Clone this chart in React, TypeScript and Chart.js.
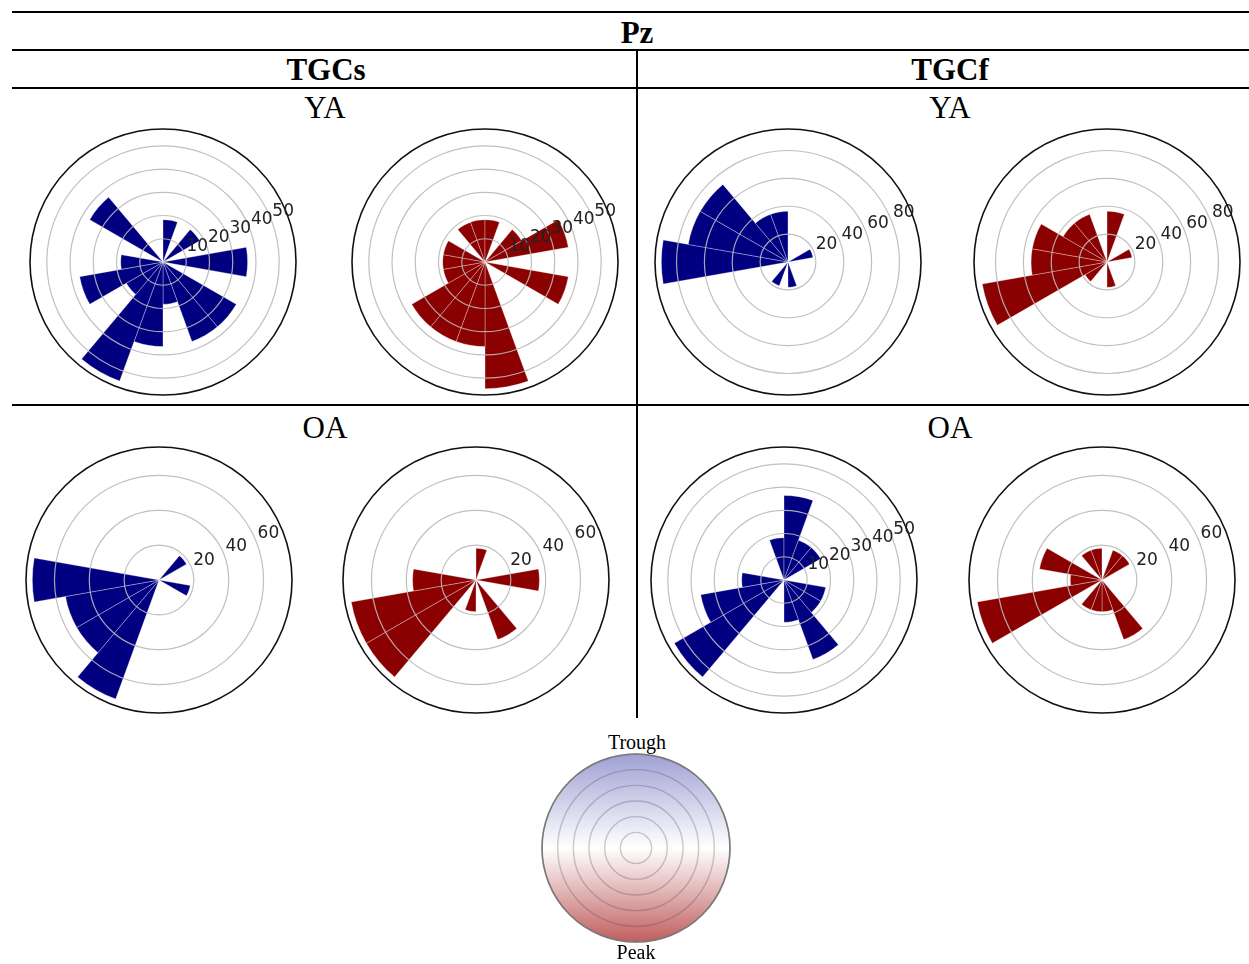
import React, { useEffect, useRef } from "react";
import { Chart, registerables } from "chart.js";

Chart.register(...registerables);

// Phase bins (degrees, counter-clockwise from east), 20° wide
const BIN_CENTERS_DEG = [0, 20, 40, 60, 80, 100, 120, 140, 160, 180, 200, 220, 240, 260, 280, 300, 320, 340];

// Pz, TGCs
const TGCS_YA_TROUGH = [36.4, 0, 18.2, 0, 18.2, 0, 0, 36.4, 0, 18.2, 36.4, 18.2, 54.5, 36.4, 18.2, 36.4, 36.4, 0];
const TGCS_YA_PEAK = [0, 36.4, 18.2, 0, 18.2, 18.2, 18.2, 0, 18.2, 18.2, 18.2, 36.4, 36.4, 36.4, 54.5, 0, 0, 36.4];
const TGCS_OA_TROUGH = [0, 0, 18.2, 0, 0, 0, 0, 0, 0, 72.7, 54.5, 54.5, 72.7, 0, 0, 0, 0, 18.2];
const TGCS_OA_PEAK = [36.4, 0, 0, 0, 18.2, 0, 0, 0, 0, 36.4, 72.7, 72.7, 0, 18.2, 0, 36.4, 0, 0];
// Pz, TGCf
const TGCF_YA_TROUGH = [0, 18.2, 0, 0, 0, 36.4, 36.4, 72.7, 72.7, 90.9, 0, 0, 18.2, 0, 18.2, 0, 0, 0];
const TGCF_YA_PEAK = [0, 18.2, 0, 0, 36.4, 0, 36.4, 36.4, 54.5, 54.5, 90.9, 18.2, 0, 0, 18.2, 0, 0, 0];
const TGCF_OA_TROUGH = [0, 0, 18.2, 18.2, 36.4, 18.2, 0, 0, 0, 18.2, 36.4, 54.5, 0, 0, 18.2, 36.4, 18.2, 18.2];
const TGCF_OA_PEAK = [0, 0, 18.2, 18.2, 0, 18.2, 18.2, 0, 36.4, 18.2, 72.7, 0, 18.2, 18.2, 18.2, 36.4, 0, 0];

const TROUGH_COLOR = "#000080";
const PEAK_COLOR = "#8b0000";

const SERIF = '"Liberation Serif", "Times New Roman", serif';

const polarDecor = {
  id: "polarDecor",
  afterDraw(chart: any, _args: any, opts: any) {
    const s = chart.scales.r;
    if (!s) return;
    const ctx = chart.ctx;
    ctx.save();
    ctx.beginPath();
    ctx.arc(s.xCenter, s.yCenter, s.drawingArea, 0, Math.PI * 2);
    ctx.strokeStyle = opts.outer || "#111";
    ctx.lineWidth = opts.outerWidth || 1.6;
    ctx.stroke();
    if (opts.labels) {
      const a = (22.5 * Math.PI) / 180;
      ctx.font = '17px "DejaVu Sans"';
      ctx.fillStyle = "#222";
      ctx.textAlign = "left";
      ctx.textBaseline = "alphabetic";
      for (const t of s.ticks) {
        if (t.value <= 0) continue;
        const d = s.getDistanceFromCenterForValue(t.value);
        const x = s.xCenter + d * Math.cos(a);
        const y = s.yCenter - d * Math.sin(a);
        ctx.fillText(String(t.value), x + 2, y - 2);
      }
    }
    ctx.restore();
  },
};

const SIZE = 270;
const PAD = 2;

type PanelProps = { values: number[]; color: string; step: number; cx: number; cy: number };

function PolarPanel({ values, color, step, cx, cy }: PanelProps) {
  const ref = useRef<HTMLCanvasElement>(null);
  useEffect(() => {
    const n = values.length;
    const ordered = values.map((_, i) => values[(n - i) % n]);
    const labels = values.map((_, i) => String(BIN_CENTERS_DEG[(n - i) % n]));
    const maxVal = Math.max(...values) * 1.05;
    const chart = new Chart(ref.current as HTMLCanvasElement, {
      type: "polarArea",
      data: {
        labels,
        datasets: [
          {
            data: ordered,
            backgroundColor: color,
            borderColor: "rgba(255,255,255,0.45)",
            borderWidth: (c: any) => (c.raw > 0 ? 0.7 : 0),
          } as any,
        ],
      },
      options: {
        responsive: false,
        animation: false,
        events: [],
        layout: { padding: PAD },
        plugins: {
          legend: { display: false },
          tooltip: { enabled: false },
          polarDecor: { labels: true, outer: "#111", outerWidth: 1.6 },
        } as any,
        scales: {
          r: {
            min: 0,
            max: maxVal,
            startAngle: 80,
            ticks: { display: false, stepSize: step, includeBounds: false },
            grid: { color: "rgba(185,185,185,0.9)", lineWidth: 1.2, z: 1, circular: true },
            angleLines: { display: false },
            pointLabels: { display: false },
          } as any,
        },
      },
      plugins: [polarDecor as any],
    });
    return () => chart.destroy();
  }, [values, color, step]);
  return (
    <canvas
      ref={ref}
      width={SIZE}
      height={SIZE}
      style={{ position: "absolute", left: cx - SIZE / 2, top: cy - SIZE / 2, width: SIZE, height: SIZE }}
    />
  );
}

const LEGEND_RINGS = [6];

function PhaseLegend({ cx, cy }: { cx: number; cy: number }) {
  const ref = useRef<HTMLCanvasElement>(null);
  const size = 193;
  useEffect(() => {
    const chart = new Chart(ref.current as HTMLCanvasElement, {
      type: "polarArea",
      data: {
        labels: ["phase"],
        datasets: [
          {
            data: LEGEND_RINGS,
            borderWidth: 0,
            backgroundColor: (c: any) => {
              const ch = c.chart;
              const s = ch.scales && ch.scales.r;
              if (!s || !ch.chartArea) return "#fff";
              const g = ch.ctx.createLinearGradient(0, s.yCenter - s.drawingArea, 0, s.yCenter + s.drawingArea);
              g.addColorStop(0, "rgb(160,160,212)");
              g.addColorStop(0.5, "rgb(255,255,255)");
              g.addColorStop(1, "rgb(192,94,94)");
              return g;
            },
          } as any,
        ],
      },
      options: {
        responsive: false,
        animation: false,
        events: [],
        layout: { padding: PAD },
        plugins: {
          legend: { display: false },
          tooltip: { enabled: false },
          polarDecor: { labels: false, outer: "#7a7a7a", outerWidth: 1.6 },
        } as any,
        scales: {
          r: {
            min: 0,
            max: 6,
            ticks: { display: false, stepSize: 1, includeBounds: false },
            grid: { color: "rgba(70,70,80,0.28)", lineWidth: 1.4, z: 1, circular: true },
            angleLines: { display: false },
            pointLabels: { display: false },
          } as any,
        },
      },
      plugins: [polarDecor as any],
    });
    return () => chart.destroy();
  }, []);
  return (
    <canvas
      ref={ref}
      width={size}
      height={size}
      style={{ position: "absolute", left: cx - 96, top: cy - 96, width: size, height: size }}
    />
  );
}

function Label({ text, cx, top, size, bold }: { text: string; cx: number; top: number; size: number; bold?: boolean }) {
  return (
    <div
      style={{
        position: "absolute",
        left: cx - 200,
        width: 400,
        top,
        textAlign: "center",
        fontFamily: SERIF,
        fontSize: size,
        fontWeight: bold ? 700 : 400,
        lineHeight: 1,
        whiteSpace: "nowrap",
        color: "#000",
      }}
    >
      {text}
    </div>
  );
}

function HLine({ x, y, w, h }: { x: number; y: number; w: number; h: number }) {
  return <div style={{ position: "absolute", left: x, top: y, width: w, height: h, background: "#000" }} />;
}

export default function App() {
  return (
    <div style={{ position: "absolute", left: 0, top: 0, width: 1249, height: 964, background: "#fff", overflow: "hidden" }}>
      <HLine x={12} y={11} w={1237} h={2} />
      <HLine x={12} y={49} w={1237} h={2} />
      <HLine x={12} y={87} w={1237} h={2} />
      <HLine x={636} y={50} w={2} h={668} />
      <HLine x={12} y={404} w={1237} h={1.6} />

      <Label text="Pz" cx={637} top={17} size={31} bold />
      <Label text="TGCs" cx={326} top={54} size={31} bold />
      <Label text="TGCf" cx={950} top={54} size={31} bold />
      <Label text="YA" cx={325} top={92} size={31} />
      <Label text="YA" cx={950} top={92} size={31} />
      <Label text="OA" cx={325} top={412} size={31} />
      <Label text="OA" cx={950} top={412} size={31} />

      <PolarPanel values={TGCS_YA_TROUGH} color={TROUGH_COLOR} step={10} cx={163} cy={262} />
      <PolarPanel values={TGCS_YA_PEAK} color={PEAK_COLOR} step={10} cx={485} cy={262} />
      <PolarPanel values={TGCF_YA_TROUGH} color={TROUGH_COLOR} step={20} cx={788} cy={262} />
      <PolarPanel values={TGCF_YA_PEAK} color={PEAK_COLOR} step={20} cx={1107} cy={262} />
      <PolarPanel values={TGCS_OA_TROUGH} color={TROUGH_COLOR} step={20} cx={159} cy={580} />
      <PolarPanel values={TGCS_OA_PEAK} color={PEAK_COLOR} step={20} cx={476} cy={580} />
      <PolarPanel values={TGCF_OA_TROUGH} color={TROUGH_COLOR} step={10} cx={784} cy={580} />
      <PolarPanel values={TGCF_OA_PEAK} color={PEAK_COLOR} step={20} cx={1102} cy={580} />

      <Label text="Trough" cx={637} top={732} size={20} />
      <PhaseLegend cx={636} cy={848} />
      <Label text="Peak" cx={636} top={942} size={20} />
    </div>
  );
}
